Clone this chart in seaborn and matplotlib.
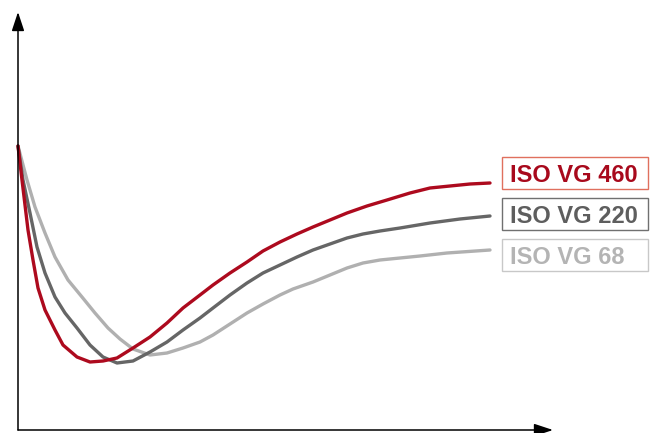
import pandas as pd
import matplotlib.pyplot as plt
from matplotlib.patches import Rectangle
import seaborn as sns

# curve readings (x: distance from y axis, y: height above x axis)
vg460_x = [0, 4, 10, 15, 20, 27, 37, 45, 59, 72, 85, 99, 115, 132, 149, 165, 182, 195, 212, 229,
           245, 262, 279, 295, 312, 329, 349, 369, 392, 412, 432, 452, 472]
vg460_y = [284, 250, 200, 170, 142, 120, 100, 85, 73, 68, 69, 72, 82, 93, 107, 122, 135, 145, 157, 168,
           179, 188, 196, 203, 210, 217, 224, 230, 237, 242, 244, 246, 247]

vg220_x = [0, 5, 12, 19, 27, 37, 47, 59, 72, 85, 99, 115, 132, 149, 165, 182, 195, 212, 229, 245,
           262, 279, 295, 312, 329, 345, 362, 382, 412, 442, 472]
vg220_y = [284, 250, 217, 183, 157, 133, 117, 102, 85, 73, 67, 69, 78, 88, 100, 112, 122, 135, 147, 157,
           165, 173, 180, 186, 192, 196, 199, 202, 207, 211, 214]

vg68_x = [0, 9, 17, 27, 37, 50, 64, 77, 90, 102, 115, 132, 149, 165, 182, 195, 212, 229, 245, 262,
          275, 295, 312, 329, 345, 362, 382, 402, 429, 472]
vg68_y = [284, 250, 223, 197, 173, 150, 133, 117, 102, 91, 81, 75, 77, 82, 88, 95, 106, 117, 126, 135,
          141, 148, 155, 162, 167, 170, 172, 174, 177, 180]

labels = ['ISO VG 460', 'ISO VG 220', 'ISO VG 68']
line_colors = ['#ad0a1e', '#666666', '#b0b0b0']
text_colors = ['#a8091c', '#5e5e5e', '#b4b4b4']
edge_colors = ['#e0705e', '#707070', '#c8c8c8']

df = pd.concat([
    pd.DataFrame({'x': vg460_x, 'y': vg460_y, 'grade': labels[0]}),
    pd.DataFrame({'x': vg220_x, 'y': vg220_y, 'grade': labels[1]}),
    pd.DataFrame({'x': vg68_x, 'y': vg68_y, 'grade': labels[2]}),
])

sns.set_style('white')
plt.rcParams['font.family'] = ['Liberation Sans', 'DejaVu Sans']

fig = plt.figure(figsize=(6.51, 4.33), dpi=100)
ax = fig.add_axes([0, 0, 1, 1])

# draw light first so red is on top
sns.lineplot(data=df, x='x', y='y', hue='grade', hue_order=labels[::-1],
             palette=dict(zip(labels, line_colors)), sort=False, estimator=None,
             linewidth=2.4, legend=False, ax=ax, solid_joinstyle='round')

ax.set_xlim(-18, 633)
ax.set_ylim(-3, 430)
ax.axis('off')

# axes with arrow heads
arrow = dict(arrowstyle='-|>,head_length=1.15,head_width=0.38', mutation_scale=10,
             lw=1.1, color='black', shrinkA=0, shrinkB=0)
ax.annotate('', xy=(0, 418), xytext=(0, 0), arrowprops=arrow)
ax.annotate('', xy=(535, 0), xytext=(0, 0), arrowprops=arrow)

# boxed labels
for i, (lab, tc, ec) in enumerate(zip(labels, text_colors, edge_colors)):
    y0 = 241 - 41 * i
    ax.add_patch(Rectangle((484, y0), 146, 32, facecolor='white', edgecolor=ec,
                           lw=1.0, clip_on=False))
    ax.text(492, y0 + 16, lab, color=tc, fontsize=17, fontweight='bold',
            ha='left', va='center_baseline', clip_on=False)

plt.savefig('out.png', dpi=100)
plt.close()
